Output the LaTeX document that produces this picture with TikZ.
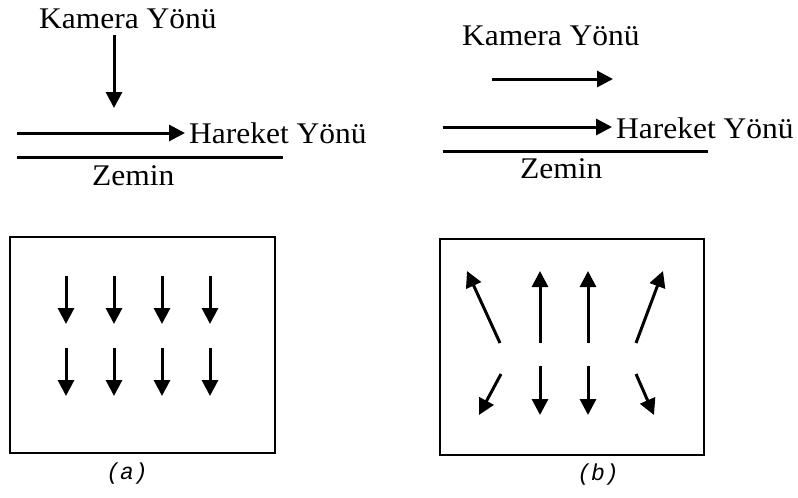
\documentclass[tikz,border=0pt]{standalone}
\usepackage{fontspec}
\setmainfont{Liberation Serif}[FakeStretch=1.05]
\newfontfamily\capfont{Liberation Mono}
\usetikzlibrary{arrows.meta}
\tikzset{
  lbl/.style={inner sep=0pt, anchor=base west, font=\fontsize{30}{32}\selectfont},
  captxt/.style={inner sep=0pt, font=\capfont\itshape\fontsize{23}{25}\selectfont},
  arr/.style={line width=3pt, -{Triangle[width=16pt,length=16pt]}},
  ln/.style={line width=3pt},
  frame/.style={line width=2.8pt}
}
\begin{document}
\begin{tikzpicture}[x=1pt,y=-1pt]
\useasboundingbox (0,0) rectangle (798,498);
% ---------- left top ----------
\node[lbl] (kamA) at (39,28) {Kamera Yönü};
\coordinate (kaS) at (114,35);
\coordinate (kaE) at (114,108);
\draw[arr] (kaS) -- (kaE);
\coordinate (haS) at (17,133);
\coordinate (haE) at (185,133);
\draw[arr] (haS) -- (haE);
\node[lbl] (harA) at (189,143) {Hareket Yönü};
\coordinate (zaS) at (17,157);
\coordinate (zaE) at (283,157);
\draw[ln] (zaS) -- (zaE);
\node[lbl] (zemA) at (92,185) {Zemin};
% ---------- right top ----------
\node[lbl] (kamB) at (462,45) {Kamera Yönü};
\coordinate (kbS) at (492,79);
\coordinate (kbE) at (613,79);
\draw[arr] (kbS) -- (kbE);
\coordinate (hbS) at (443,127);
\coordinate (hbE) at (612,127);
\draw[arr] (hbS) -- (hbE);
\node[lbl] (harB) at (616,138) {Hareket Yönü};
\coordinate (zbS) at (443,151);
\coordinate (zbE) at (708,151);
\draw[ln] (zbS) -- (zbE);
\node[lbl] (zemB) at (520,178) {Zemin};
% ---------- left box ----------
\node[frame, draw, minimum width=265pt, minimum height=216pt, inner sep=0pt] (boxA) at (142.5,345) {};
\foreach \x [count=\i] in {66,114,162,210}{
  \coordinate (a1s\i) at (\x,276);
  \coordinate (a1e\i) at (\x,324);
  \coordinate (a2s\i) at (\x,348);
  \coordinate (a2e\i) at (\x,396);
  \draw[arr] (a1s\i) -- (a1e\i);
  \draw[arr] (a2s\i) -- (a2e\i);
}
\node[captxt] (capA) at (127,474) {(a)};
% ---------- right box ----------
\node[frame, draw, minimum width=264pt, minimum height=216pt, inner sep=0pt] (boxB) at (572,347) {};
\coordinate (b1s1) at (500,343); \coordinate (b1e1) at (467,271);
\coordinate (b1s2) at (540,343); \coordinate (b1e2) at (540,271);
\coordinate (b1s3) at (588,343); \coordinate (b1e3) at (588,271);
\coordinate (b1s4) at (636,343); \coordinate (b1e4) at (663,271);
\coordinate (b2s1) at (501,374); \coordinate (b2e1) at (479,415);
\coordinate (b2s2) at (540,366); \coordinate (b2e2) at (540,415);
\coordinate (b2s3) at (588,366); \coordinate (b2e3) at (588,415);
\coordinate (b2s4) at (636,374); \coordinate (b2e4) at (654,415);
\foreach \i in {1,2,3,4}{
  \draw[arr] (b1s\i) -- (b1e\i);
  \draw[arr] (b2s\i) -- (b2e\i);
}
\node[captxt] (capB) at (598,475) {(b)};
\end{tikzpicture}
\end{document}
